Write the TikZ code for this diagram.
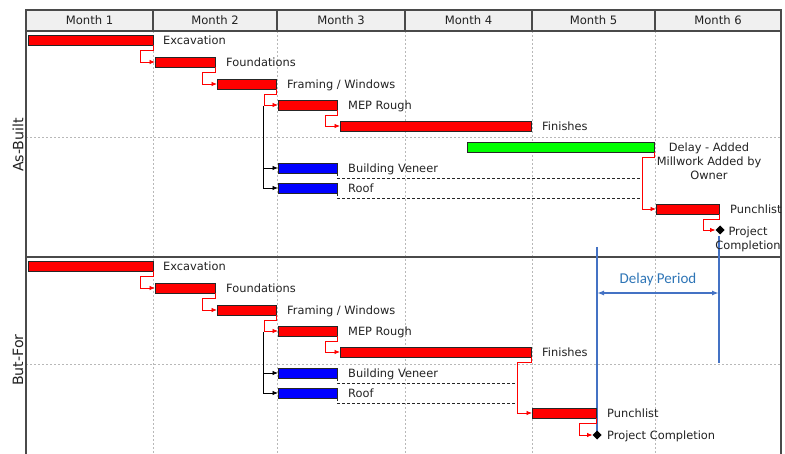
\documentclass[tikz,border=0pt]{standalone}
\usepackage{fontspec}
\setmainfont{DejaVu Sans}
\newfontfamily\calibfont{Carlito}
\usetikzlibrary{arrows.meta,shapes.geometric,calc}
\definecolor{framec}{HTML}{4A4A4A}
\definecolor{gridc}{HTML}{B8B8B8}
\definecolor{hdrc}{HTML}{F0F0F0}
\definecolor{dblue}{HTML}{4472C4}
\definecolor{dtext}{HTML}{2E75B6}
\definecolor{barred}{HTML}{FF0000}
\definecolor{barblue}{HTML}{0000FF}
\definecolor{bargreen}{HTML}{00FF00}
\definecolor{txtc}{HTML}{222222}
\begin{document}
\begin{tikzpicture}[x=1pt,y=-1pt,
  bar/.style={draw=black!85, line width=0.9pt, inner sep=0pt, outer sep=0pt, anchor=north west, minimum height=10pt},
  redbar/.style={bar, fill=barred},
  bluebar/.style={bar, fill=barblue},
  greenbar/.style={bar, fill=bargreen},
  lbl/.style={anchor=base west, inner sep=0pt, text=txtc, font=\fontsize{11.4}{14}\selectfont},
  clbl/.style={align=center, inner sep=0pt, text=txtc, font=\fontsize{11.4}{14}\selectfont},
  hlbl/.style={anchor=base, inner sep=0pt, text=txtc, font=\fontsize{11.6}{14}\selectfont},
  axlbl/.style={rotate=90, inner sep=0pt, text=txtc, font=\fontsize{14.2}{16}\selectfont},
  rc/.style={draw=barred, line width=0.8pt, -{Latex[length=5.5pt,width=4.5pt]}},
  bc/.style={draw=black, line width=0.8pt, -{Latex[length=5.5pt,width=4.5pt]}},
  dsh/.style={draw=black!85, line width=0.8pt, dash pattern=on 3pt off 2pt},
  gridl/.style={draw=gridc, line width=0.6pt, dash pattern=on 2pt off 2pt},
  framel/.style={draw=framec, line width=1.3pt},
  dline/.style={draw=dblue, line width=1.4pt},
  mile/.style={diamond, fill=black, minimum size=9pt, inner sep=0pt, outer sep=0pt}
]
\useasboundingbox (0,0) rectangle (785,454);

% grid lines
\foreach \gx in {153,277,405,532,655} \draw[gridl] (\gx,31) -- (\gx,454);
\draw[gridl] (26,137) -- (781,137);
\draw[gridl] (26,364) -- (781,364);

% header
\draw[framel, fill=hdrc] (26,10) rectangle (781,31);
\foreach \gx in {153,277,405,532,655} \draw[framel] (\gx,10) -- (\gx,31);
\node[hlbl] (m1) at (89.5,24.8) {Month 1};
\node[hlbl] (m2) at (215,24.8) {Month 2};
\node[hlbl] (m3) at (341,24.8) {Month 3};
\node[hlbl] (m4) at (468.5,24.8) {Month 4};
\node[hlbl] (m5) at (593.5,24.8) {Month 5};
\node[hlbl] (m6) at (718,24.8) {Month 6};

% frame
\draw[framel] (26,31) -- (26,454);
\draw[framel] (781,31) -- (781,454);
\draw[framel] (26,257) -- (781,257);

\node[axlbl] (asb) at (18,145) {As-Built};
\node[axlbl] (butf) at (18,360) {But-For};

% delay period
\coordinate (dla) at (597,247);
\coordinate (dlb) at (597,435);
\coordinate (dlc) at (719,236);
\coordinate (dld) at (719,363);
\coordinate (dpa) at (597,293);
\coordinate (dpb) at (719,293);
\draw[dline] (dla) -- (dlb);
\draw[dline] (dlc) -- (dld);
\draw[dline, {Latex[length=7pt,width=5pt]}-{Latex[length=7pt,width=5pt]}] (dpa) -- (dpb);
\node[text=dtext, inner sep=0pt, font=\calibfont\fontsize{15}{18}\selectfont] (dper) at (658,280) {Delay Period};

% ---------- As-Built ----------
\node[redbar, minimum width=125pt] (tex) at (28,35) {};
\node[redbar, minimum width=60pt] (tfo) at (155,57) {};
\node[redbar, minimum width=59pt] (tfr) at (217,79) {};
\node[redbar, minimum width=59pt] (tmep) at (278,100) {};
\node[redbar, minimum width=191pt] (tfin) at (340,121) {};
\node[greenbar, minimum width=187pt] (tdel) at (467,142) {};
\node[bluebar, minimum width=59pt] (tbv) at (278,163) {};
\node[bluebar, minimum width=59pt] (troof) at (278,183) {};
\node[redbar, minimum width=63pt] (tpu) at (656,204) {};
\node[mile] (tpc) at (720,230) {};

\node[lbl] (ltex) at (163,44.4) {Excavation};
\node[lbl] (ltfo) at (226,66.4) {Foundations};
\node[lbl] (ltfr) at (287,88.4) {Framing / Windows};
\node[lbl] (ltmep) at (348,109.4) {MEP Rough};
\node[lbl] (ltfin) at (542,130.4) {Finishes};
\node[clbl] (ltdel) at (709,161) {Delay - Added\\Millwork Added by\\Owner};
\node[lbl] (ltbv) at (348,172.4) {Building Veneer};
\node[lbl] (ltroof) at (348,192.4) {Roof};
\node[lbl] (ltpu) at (730,213.4) {Punchlist};
\node[clbl] (ltpc) at (748,239) {Project\\Completion};

\draw[rc] (tex.south east) -- ++(0,5) -| ([xshift=-15pt]tfo.west) -- (tfo.west);
\draw[rc] (tfo.south east) -- ++(0,5) -| ([xshift=-15pt]tfr.west) -- (tfr.west);
\draw[rc] (tfr.south east) -- ++(0,5) -| ([xshift=-14pt]tmep.west) -- (tmep.west);
\draw[rc] (tmep.south east) -- ++(0,5) -| ([xshift=-15pt]tfin.west) -- (tfin.west);
\draw[rc] (tdel.south east) -- ++(0,5) -| ([xshift=-14pt]tpu.west) -- (tpu.west);
\draw[rc] (tpu.south east) -- ++(0,5) -| ([xshift=-12pt]tpc.west) -- (tpc.west);
\coordinate (tj) at (263,106);
\draw[bc] (tj) |- (tbv.west);
\draw[bc] (tj) |- (troof.west);
\coordinate (tdx1) at (640,178);
\coordinate (tdx2) at (640,198);
\draw[dsh] (tbv.south east) |- (tdx1);
\draw[dsh] (troof.south east) |- (tdx2);

% ---------- But-For ----------
\node[redbar, minimum width=125pt] (bex) at (28,261) {};
\node[redbar, minimum width=60pt] (bfo) at (155,283) {};
\node[redbar, minimum width=59pt] (bfr) at (217,305) {};
\node[redbar, minimum width=59pt] (bmep) at (278,326) {};
\node[redbar, minimum width=191pt] (bfin) at (340,347) {};
\node[bluebar, minimum width=59pt] (bbv) at (278,368) {};
\node[bluebar, minimum width=59pt] (broof) at (278,388) {};
\node[redbar, minimum width=64pt] (bpu) at (532,408) {};
\node[mile] (bpc) at (597,435) {};

\node[lbl] (lbex) at (163,270.4) {Excavation};
\node[lbl] (lbfo) at (226,292.4) {Foundations};
\node[lbl] (lbfr) at (287,314.4) {Framing / Windows};
\node[lbl] (lbmep) at (348,335.4) {MEP Rough};
\node[lbl] (lbfin) at (542,356.4) {Finishes};
\node[lbl] (lbbv) at (348,377.4) {Building Veneer};
\node[lbl] (lbroof) at (348,397.4) {Roof};
\node[lbl] (lbpu) at (607,417.4) {Punchlist};
\node[lbl] (lbpc) at (607,439.4) {Project Completion};

\draw[rc] (bex.south east) -- ++(0,5) -| ([xshift=-15pt]bfo.west) -- (bfo.west);
\draw[rc] (bfo.south east) -- ++(0,5) -| ([xshift=-15pt]bfr.west) -- (bfr.west);
\draw[rc] (bfr.south east) -- ++(0,5) -| ([xshift=-14pt]bmep.west) -- (bmep.west);
\draw[rc] (bmep.south east) -- ++(0,5) -| ([xshift=-15pt]bfin.west) -- (bfin.west);
\draw[rc] (bfin.south east) -- ++(0,5) -| ([xshift=-15pt]bpu.west) -- (bpu.west);
\draw[rc] (bpu.south east) -- ++(0,5) -| ([xshift=-13pt]bpc.west) -- (bpc.west);
\coordinate (bj) at (263,332);
\draw[bc] (bj) |- (bbv.west);
\draw[bc] (bj) |- (broof.west);
\coordinate (bdx1) at (516,383);
\coordinate (bdx2) at (516,403);
\draw[dsh] (bbv.south east) |- (bdx1);
\draw[dsh] (broof.south east) |- (bdx2);
\end{tikzpicture}
\end{document}
